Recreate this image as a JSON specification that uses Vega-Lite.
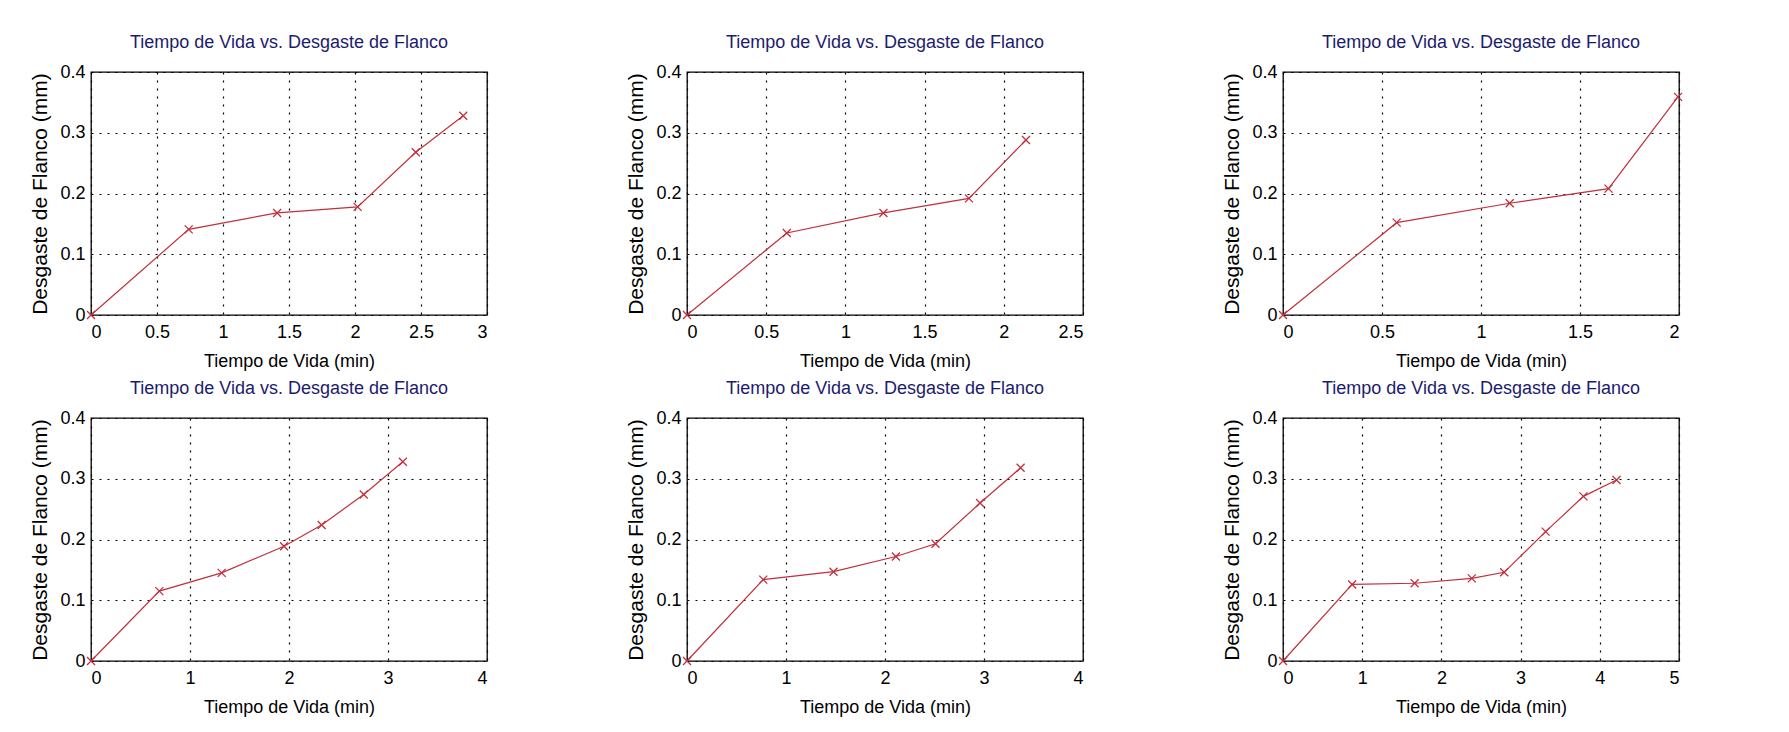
{
  "$schema": "https://vega.github.io/schema/vega-lite/v6.json",
  "background": "white",
  "padding": {"left": 28, "top": 33, "right": 5, "bottom": 5},
  "data": {"values": [
    {"panel": 1, "t": 0, "vb": 0}, {"panel": 1, "t": 0.74, "vb": 0.141}, {"panel": 1, "t": 1.41, "vb": 0.168}, {"panel": 1, "t": 2.02, "vb": 0.178}, {"panel": 1, "t": 2.46, "vb": 0.268}, {"panel": 1, "t": 2.82, "vb": 0.328},
    {"panel": 2, "t": 0, "vb": 0}, {"panel": 2, "t": 0.63, "vb": 0.135}, {"panel": 2, "t": 1.24, "vb": 0.168}, {"panel": 2, "t": 1.78, "vb": 0.192}, {"panel": 2, "t": 2.14, "vb": 0.288},
    {"panel": 3, "t": 0, "vb": 0}, {"panel": 3, "t": 0.574, "vb": 0.152}, {"panel": 3, "t": 1.145, "vb": 0.184}, {"panel": 3, "t": 1.644, "vb": 0.208}, {"panel": 3, "t": 1.995, "vb": 0.359},
    {"panel": 4, "t": 0, "vb": 0}, {"panel": 4, "t": 0.69, "vb": 0.115}, {"panel": 4, "t": 1.32, "vb": 0.145}, {"panel": 4, "t": 1.95, "vb": 0.189}, {"panel": 4, "t": 2.33, "vb": 0.224}, {"panel": 4, "t": 2.755, "vb": 0.274}, {"panel": 4, "t": 3.15, "vb": 0.328},
    {"panel": 5, "t": 0, "vb": 0}, {"panel": 5, "t": 0.77, "vb": 0.134}, {"panel": 5, "t": 1.48, "vb": 0.147}, {"panel": 5, "t": 2.11, "vb": 0.172}, {"panel": 5, "t": 2.51, "vb": 0.193}, {"panel": 5, "t": 2.96, "vb": 0.26}, {"panel": 5, "t": 3.37, "vb": 0.318},
    {"panel": 6, "t": 0, "vb": 0}, {"panel": 6, "t": 0.873, "vb": 0.126}, {"panel": 6, "t": 1.662, "vb": 0.128}, {"panel": 6, "t": 2.384, "vb": 0.136}, {"panel": 6, "t": 2.793, "vb": 0.146}, {"panel": 6, "t": 3.316, "vb": 0.213}, {"panel": 6, "t": 3.793, "vb": 0.271}, {"panel": 6, "t": 4.211, "vb": 0.298}
  ]},
  "columns": 3,
  "spacing": {"row": 103, "column": 200},
  "bounds": "flush",
  "concat": [
    {
      "width": 396, "height": 243,
      "title": "Tiempo de Vida vs. Desgaste de Flanco",
      "transform": [{"filter": "datum.panel == 1"}],
      "encoding": {
        "x": {"field": "t", "type": "quantitative", "scale": {"domain": [0, 3], "nice": false, "zero": false}, "axis": {"values": [0, 0.5, 1, 1.5, 2, 2.5, 3], "title": "Tiempo de Vida (min)"}},
        "y": {"field": "vb", "type": "quantitative", "scale": {"domain": [0, 0.4], "nice": false}, "axis": {"values": [0, 0.1, 0.2, 0.3, 0.4], "title": "Desgaste de Flanco (mm)"}}
      },
      "layer": [
        {"mark": {"type": "line", "color": "#c0303c", "strokeWidth": 1.2}},
        {"mark": {"type": "point", "shape": "M-1,-1L1,1M-1,1L1,-1", "filled": false, "stroke": "#c0303c", "size": 64, "strokeWidth": 1.3, "opacity": 1}}
      ]
    },
    {
      "width": 396, "height": 243,
      "title": "Tiempo de Vida vs. Desgaste de Flanco",
      "transform": [{"filter": "datum.panel == 2"}],
      "encoding": {
        "x": {"field": "t", "type": "quantitative", "scale": {"domain": [0, 2.5], "nice": false, "zero": false}, "axis": {"values": [0, 0.5, 1, 1.5, 2, 2.5], "title": "Tiempo de Vida (min)"}},
        "y": {"field": "vb", "type": "quantitative", "scale": {"domain": [0, 0.4], "nice": false}, "axis": {"values": [0, 0.1, 0.2, 0.3, 0.4], "title": "Desgaste de Flanco (mm)"}}
      },
      "layer": [
        {"mark": {"type": "line", "color": "#c0303c", "strokeWidth": 1.2}},
        {"mark": {"type": "point", "shape": "M-1,-1L1,1M-1,1L1,-1", "filled": false, "stroke": "#c0303c", "size": 64, "strokeWidth": 1.3, "opacity": 1}}
      ]
    },
    {
      "width": 396, "height": 243,
      "title": "Tiempo de Vida vs. Desgaste de Flanco",
      "transform": [{"filter": "datum.panel == 3"}],
      "encoding": {
        "x": {"field": "t", "type": "quantitative", "scale": {"domain": [0, 2], "nice": false, "zero": false}, "axis": {"values": [0, 0.5, 1, 1.5, 2], "title": "Tiempo de Vida (min)"}},
        "y": {"field": "vb", "type": "quantitative", "scale": {"domain": [0, 0.4], "nice": false}, "axis": {"values": [0, 0.1, 0.2, 0.3, 0.4], "title": "Desgaste de Flanco (mm)"}}
      },
      "layer": [
        {"mark": {"type": "line", "color": "#c0303c", "strokeWidth": 1.2}},
        {"mark": {"type": "point", "shape": "M-1,-1L1,1M-1,1L1,-1", "filled": false, "stroke": "#c0303c", "size": 64, "strokeWidth": 1.3, "opacity": 1}}
      ]
    },
    {
      "width": 396, "height": 243,
      "title": "Tiempo de Vida vs. Desgaste de Flanco",
      "transform": [{"filter": "datum.panel == 4"}],
      "encoding": {
        "x": {"field": "t", "type": "quantitative", "scale": {"domain": [0, 4], "nice": false, "zero": false}, "axis": {"values": [0, 1, 2, 3, 4], "title": "Tiempo de Vida (min)"}},
        "y": {"field": "vb", "type": "quantitative", "scale": {"domain": [0, 0.4], "nice": false}, "axis": {"values": [0, 0.1, 0.2, 0.3, 0.4], "title": "Desgaste de Flanco (mm)"}}
      },
      "layer": [
        {"mark": {"type": "line", "color": "#c0303c", "strokeWidth": 1.2}},
        {"mark": {"type": "point", "shape": "M-1,-1L1,1M-1,1L1,-1", "filled": false, "stroke": "#c0303c", "size": 64, "strokeWidth": 1.3, "opacity": 1}}
      ]
    },
    {
      "width": 396, "height": 243,
      "title": "Tiempo de Vida vs. Desgaste de Flanco",
      "transform": [{"filter": "datum.panel == 5"}],
      "encoding": {
        "x": {"field": "t", "type": "quantitative", "scale": {"domain": [0, 4], "nice": false, "zero": false}, "axis": {"values": [0, 1, 2, 3, 4], "title": "Tiempo de Vida (min)"}},
        "y": {"field": "vb", "type": "quantitative", "scale": {"domain": [0, 0.4], "nice": false}, "axis": {"values": [0, 0.1, 0.2, 0.3, 0.4], "title": "Desgaste de Flanco (mm)"}}
      },
      "layer": [
        {"mark": {"type": "line", "color": "#c0303c", "strokeWidth": 1.2}},
        {"mark": {"type": "point", "shape": "M-1,-1L1,1M-1,1L1,-1", "filled": false, "stroke": "#c0303c", "size": 64, "strokeWidth": 1.3, "opacity": 1}}
      ]
    },
    {
      "width": 396, "height": 243,
      "title": "Tiempo de Vida vs. Desgaste de Flanco",
      "transform": [{"filter": "datum.panel == 6"}],
      "encoding": {
        "x": {"field": "t", "type": "quantitative", "scale": {"domain": [0, 5], "nice": false, "zero": false}, "axis": {"values": [0, 1, 2, 3, 4, 5], "title": "Tiempo de Vida (min)"}},
        "y": {"field": "vb", "type": "quantitative", "scale": {"domain": [0, 0.4], "nice": false}, "axis": {"values": [0, 0.1, 0.2, 0.3, 0.4], "title": "Desgaste de Flanco (mm)"}}
      },
      "layer": [
        {"mark": {"type": "line", "color": "#c0303c", "strokeWidth": 1.2}},
        {"mark": {"type": "point", "shape": "M-1,-1L1,1M-1,1L1,-1", "filled": false, "stroke": "#c0303c", "size": 64, "strokeWidth": 1.3, "opacity": 1}}
      ]
    }
  ],
  "config": {
    "font": "Liberation Sans",
    "view": {"stroke": "black", "strokeWidth": 1.3},
    "axis": {
      "grid": true, "gridColor": "black", "gridDash": [2, 6], "gridOpacity": 1, "gridWidth": 1.2,
      "domain": false, "ticks": false,
      "format": "~g",
      "labelFont": "Liberation Sans", "labelFontSize": 18, "labelColor": "black",
      "titleFont": "Liberation Sans", "titleFontSize": 18, "titleFontWeight": "normal", "titleColor": "black"
    },
    "axisX": {"labelPadding": 8, "titlePadding": 11},
    "axisY": {"labelPadding": 6, "titlePadding": 9.5, "titleFontSize": 21},
    "title": {"font": "Liberation Sans", "fontSize": 18, "fontWeight": "normal", "color": "#1c1c6e", "frame": "group", "baseline": "alphabetic", "offset": 11}
  }
}
